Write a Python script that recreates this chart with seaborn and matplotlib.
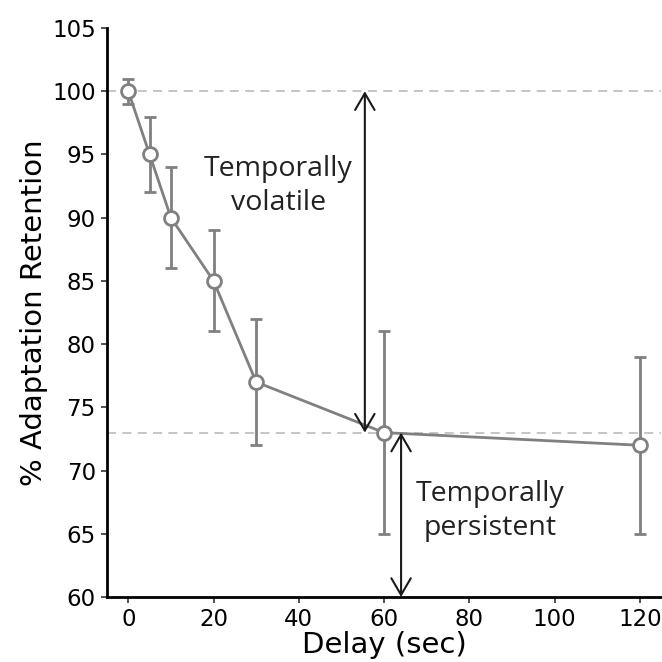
import matplotlib
matplotlib.use("Agg")
import matplotlib.pyplot as plt
import seaborn as sns
import pandas as pd

# Retention after each delay
delay_sec = [0, 5, 10, 20, 30, 60, 120]
retention_pct = [100, 95, 90, 85, 77, 73, 72]
retention_err = [1, 3, 4, 4, 5, 8, 7]

baseline_level = 100
plateau_level = 73
volatile_x = 55.5
persistent_x = 64

x_ticks = [0, 20, 40, 60, 80, 100, 120]
y_ticks = [60, 65, 70, 75, 80, 85, 90, 95, 100, 105]

sns.set_style("ticks")
plt.rcParams["font.family"] = ["DejaVu Sans"]

df = pd.DataFrame({"delay": delay_sec, "retention": retention_pct})

fig = plt.figure(figsize=(6.62, 6.62), dpi=100)
ax = fig.add_axes([0.1616, 0.0982, 0.837, 0.8595])

grey = "#808080"
ax.axhline(baseline_level, color="#c0c0c0", ls=(0, (5, 3.5)), lw=1.3, zorder=1)
ax.axhline(plateau_level, color="#c0c0c0", ls=(0, (5, 3.5)), lw=1.3, zorder=1)

ax.errorbar(delay_sec, retention_pct, yerr=retention_err, fmt="none",
            ecolor=grey, elinewidth=2, capsize=4, capthick=2, zorder=2)
sns.lineplot(data=df, x="delay", y="retention", ax=ax, color=grey, lw=2,
             marker="o", markersize=10, markerfacecolor="white",
             markeredgecolor=grey, markeredgewidth=2, zorder=3)

arrow_kw = dict(arrowstyle="<->,head_length=1.2,head_width=0.7",
                color="#1a1a1a", lw=1.5, shrinkA=0, shrinkB=0)
ax.annotate("", xy=(volatile_x, baseline_level), xytext=(volatile_x, plateau_level),
            arrowprops=arrow_kw, zorder=4)
ax.annotate("", xy=(persistent_x, plateau_level), xytext=(persistent_x, 60),
            arrowprops=arrow_kw, zorder=4)

text_kw = dict(ha="center", va="center", fontsize=20.5, color="#222222",
               family=["Open Sans", "DejaVu Sans"], linespacing=1.3)
ax.text(35.2, 92.5, "Temporally\nvolatile", **text_kw)
ax.text(85, 66.8, "Temporally\npersistent", **text_kw)

ax.set_xlim(-5, 125)
ax.set_ylim(60, 105)
ax.set_xticks(x_ticks)
ax.set_yticks(y_ticks)
ax.tick_params(labelsize=16.5, length=4, width=1.2, color="#333333",
               labelcolor="black", pad=4)
ax.set_xlabel("Delay (sec)", fontsize=21, labelpad=0, color="black")
ax.set_ylabel("% Adaptation Retention", fontsize=21, labelpad=3, color="black")
sns.despine(ax=ax)
for s in ("left", "bottom"):
    ax.spines[s].set_linewidth(2)
    ax.spines[s].set_color("black")

fig.savefig("out.png", dpi=100)
